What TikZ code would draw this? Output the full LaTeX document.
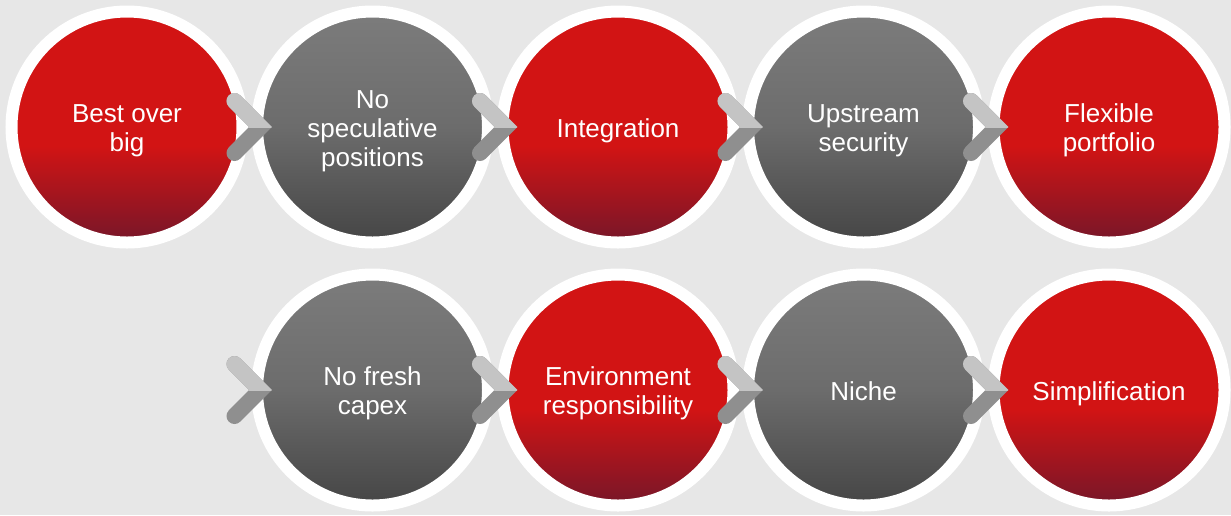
\documentclass[tikz,border=0pt]{standalone}
\usepackage{fontspec}
\setmainfont{Liberation Sans}
\usetikzlibrary{calc}
\definecolor{bg}{HTML}{E7E7E7}
\definecolor{redtop}{HTML}{D21414}
\definecolor{redbot}{HTML}{761629}
\definecolor{graytop}{HTML}{7C7C7C}
\definecolor{graymid}{HTML}{6C6C6C}
\definecolor{graybot}{HTML}{454545}
\definecolor{chevlt}{HTML}{C4C4C4}
\definecolor{chevdk}{HTML}{8F8F8F}
\pgfdeclareverticalshading{redshade}{100bp}{color(0bp)=(redbot); color(25bp)=(redbot); color(46bp)=(redtop); color(100bp)=(redtop)}
\pgfdeclareverticalshading{grayshade}{100bp}{color(0bp)=(graybot); color(25bp)=(graybot); color(50bp)=(graymid); color(75bp)=(graytop); color(100bp)=(graytop)}
\tikzset{
  ball/.style={circle, minimum size=231pt, inner sep=0pt, outer sep=0pt,
    draw=white, line width=12pt},
  redball/.style={ball, shading=redshade},
  grayball/.style={ball, shading=grayshade},
  balltext/.style={text=white, inner sep=0pt, font=\fontsize{26}{29}\selectfont},
  chevline/.style={line width=16pt, line cap=round, line join=miter},
}
\newcommand{\mychev}[1]{%
  \begin{scope}
    \coordinate (v#1) at ($(#1.center)+(-112,0)$);
    \draw[chevline, chevdk] ($(v#1)+(-26,-26)$) -- (v#1) -- ($(v#1)+(-26,26)$);
    \clip ($(v#1)+(-50,-50)$) rectangle ($(v#1)+(20,0)$);
    \draw[chevline, chevlt] ($(v#1)+(-26,-26)$) -- (v#1) -- ($(v#1)+(-26,26)$);
  \end{scope}}
\newcommand{\balllabel}[3]{%
  \node[balltext] (#1) at ($(#2.center)+(0,4.5)$) {\begin{tabular}{@{}c@{}}#3\end{tabular}};}
\begin{document}
\begin{tikzpicture}[x=1pt, y=-1pt]
  \useasboundingbox (0,0) rectangle (1231,515);
  \fill[bg] (0,0) rectangle (1231,515);
  \node[redball]  (c1) at (127,127)   {};
  \node[grayball] (c2) at (372.5,127) {};
  \node[redball]  (c3) at (618,127)   {};
  \node[grayball] (c4) at (863.5,127) {};
  \node[redball]  (c5) at (1109,127)  {};
  \node[grayball] (c6) at (372.5,390) {};
  \node[redball]  (c7) at (618,390)   {};
  \node[grayball] (c8) at (863.5,390) {};
  \node[redball]  (c9) at (1109,390)  {};
  \balllabel{t1}{c1}{Best over\\big}
  \balllabel{t2}{c2}{No\\speculative\\positions}
  \balllabel{t3}{c3}{Integration}
  \balllabel{t4}{c4}{Upstream\\security}
  \balllabel{t5}{c5}{Flexible\\portfolio}
  \balllabel{t6}{c6}{No fresh\\capex}
  \balllabel{t7}{c7}{Environment\\responsibility}
  \balllabel{t8}{c8}{Niche}
  \balllabel{t9}{c9}{Simplification}
  \mychev{c2}\mychev{c3}\mychev{c4}\mychev{c5}
  \mychev{c6}\mychev{c7}\mychev{c8}\mychev{c9}
\end{tikzpicture}
\end{document}
